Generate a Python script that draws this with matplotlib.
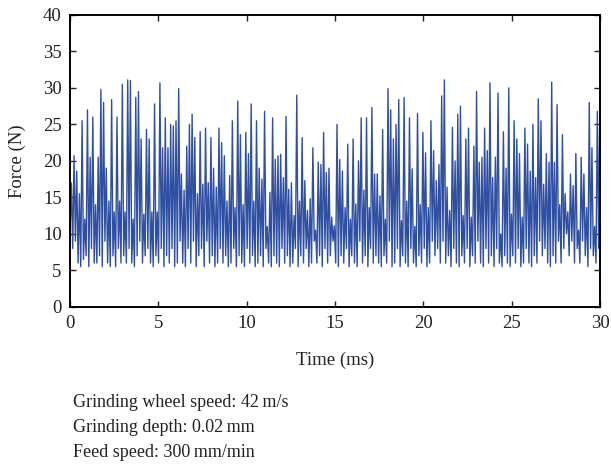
import numpy as np
import matplotlib
matplotlib.use('Agg')
import matplotlib.pyplot as plt

# force samples, 0-30 ms, evenly spaced in time
force_0_6 = [10, 17, 8, 20.7, 9, 18.6, 6, 15.5, 5.5, 25.5, 6.5, 12, 7, 27, 5.5,
             20.5, 8, 26, 6, 14, 6, 20.5, 7, 29.8, 5.5, 28, 9, 19, 6, 14.5,
             5.5, 28.4, 7, 13, 5.5, 26, 8, 14.5, 6, 30.5, 7, 13, 6, 31.1, 8,
             31, 6, 12, 5.5, 28.7, 7, 29.5, 9, 23, 6, 12.7, 7, 24.3, 8, 23,
             6, 13, 5.5, 27.8, 7, 13, 6, 30.7, 8, 21.8]
force_6_12 = [5.5, 25.9, 7, 21.8, 6, 25, 8, 24.8, 5.5, 25.5, 6, 29.9, 9, 18.2,
              6, 16, 5.5, 22, 8, 25, 6, 26.4, 9, 23.2, 5.5, 15.5, 7, 24, 8,
              16.8, 5.5, 24.5, 9, 17, 6, 23.2, 7, 19, 5.5, 16.4, 6, 24.5, 8,
              22.5, 6, 20.7, 7, 14.5, 5.5, 18, 6, 25.5, 8, 13.6, 5.5, 28.2,
              7, 23.6, 6, 14, 5.5, 23.9, 8, 21, 6, 27.8, 7, 14.5, 5.5, 25.5,
              6, 19, 7, 17.5, 5.5, 26.8, 8, 11]
force_12_18 = [6, 15.7, 5.5, 25.9, 7, 20.2, 6, 20.7, 5.5, 20.9, 8, 17.7, 6,
               26.1, 7, 16.1, 5.5, 17, 6, 12.5, 8, 29, 5.5, 14.5, 7, 23.2, 6,
               17.3, 8, 13.2, 5.5, 14.8, 6, 21.8, 9, 10.5, 6, 19.8, 7, 19.5,
               5.5, 23.9, 8, 18.4, 6, 19, 7, 12.3, 9, 11.1, 6, 25, 5.5, 20.2,
               7, 18.6, 6, 13.6, 8, 22.3, 5.5, 12, 7, 23, 6, 14.1, 5.5, 20,
               9, 25.9, 6, 16, 7, 25.9, 5.5, 13.6, 8, 27.3, 6, 18.2]
force_18_24 = [7, 18.2, 6, 15.2, 5.5, 24.3, 7, 12, 6, 29.9, 9, 27, 5.5, 23,
               6, 25, 8, 28.4, 5.5, 11.8, 7, 28.7, 6, 14.5, 5.5, 25.9, 8, 18.9,
               6, 11, 5.5, 26.5, 7, 14, 6, 23.9, 8, 21.1, 5.5, 13.6, 6, 25.5,
               9, 21.4, 7, 17.3, 8, 19.5, 6, 28.9, 9, 31.1, 6, 16.4, 7, 13.2,
               5.5, 24.6, 8, 20, 6, 26.4, 5.5, 27.5, 7, 12.5, 6, 23, 8, 24.5,
               5.5, 12.3, 7, 22, 6, 29.5, 9, 19.8, 6, 20.5, 5.5, 24.5, 8, 21.4,
               6, 30.7, 7, 17.7, 5.5, 20.5, 8, 29.3]
force_24_30 = [6, 10, 5.5, 24, 7, 19, 6, 30, 5.5, 12.7, 7, 25.5, 6, 23, 8,
               21, 5.5, 12.3, 6, 24.5, 8, 22.3, 6, 18.6, 5.5, 25, 7, 17.7, 6,
               28.5, 9, 25.5, 7, 16.8, 8, 21, 6, 19.8, 5.5, 30.8, 7, 19.8, 6,
               27.7, 9, 14, 6, 23.6, 8, 15.5, 10, 13, 7, 18.2, 9, 16.6, 6, 21,
               8, 10.5, 6, 20.5, 9, 18.2, 7, 13.6, 5.5, 28, 8, 21.8, 7, 11, 6,
               26.8, 8, 30.5]

force = np.array(force_0_6 + force_6_12 + force_12_18 + force_18_24 + force_24_30)
time = np.linspace(0, 30, len(force))

notes = ['Grinding wheel speed: 42\u2009m/s',
         'Grinding depth: 0.02\u2009mm',
         'Feed speed: 300\u2009mm/min']

plt.rcParams['font.family'] = ['Liberation Serif', 'DejaVu Serif']

fig = plt.figure(figsize=(6.11, 4.67), dpi=100)
ax = fig.add_axes([0.1146, 0.343, 0.8674, 0.625])
ax.plot(time, force, '-', color='#2f4fa2', lw=1.0)
ax.set_xlim(0, 30)
ax.set_ylim(0, 40)
ax.set_xticks(np.arange(0, 31, 5))
ax.set_yticks(np.arange(0, 41, 5))
ax.tick_params(direction='in', top=True, right=True, labelsize=13.5,
               length=4, width=1, colors='#222222', pad=6)
for s in ax.spines.values():
    s.set_linewidth(1.4)
ax.set_xlabel('Time (ms)', fontsize=13.5, color='#222222', labelpad=14)
ax.set_ylabel('Force (N)', fontsize=13.5, color='#222222', labelpad=12)

for i, t in enumerate(notes):
    fig.text(0.119, 0.139 - i * 0.054, t, fontsize=13, color='#222222',
             va='center')

fig.savefig('out.png', dpi=100)
